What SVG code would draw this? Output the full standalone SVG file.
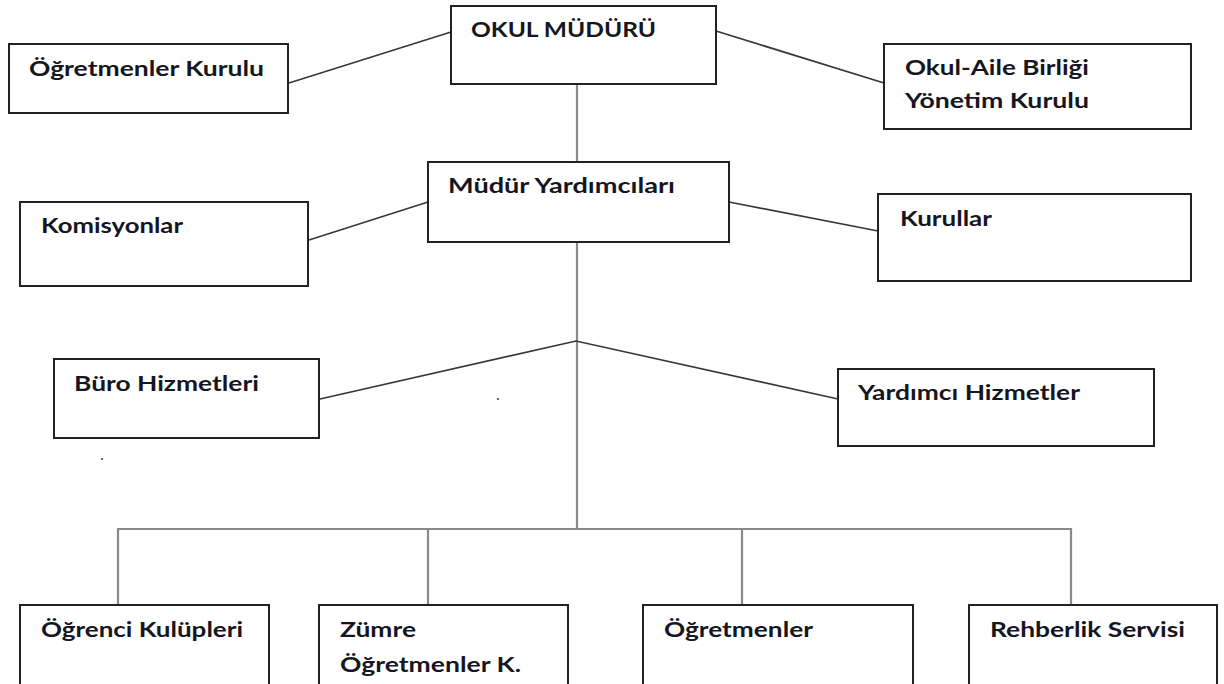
<svg xmlns="http://www.w3.org/2000/svg" width="1224" height="684" viewBox="0 0 1224 684">
<style>
.box{fill:#fff;stroke:#222;stroke-width:2}
.t{font-family:Lato,"Open Sans","Liberation Sans",sans-serif;font-weight:bold;font-size:20px;fill:#161622}
.d{stroke:#383838;stroke-width:1.7;fill:none}
.v{stroke:#8a8a8a;stroke-width:2.2;fill:none}
</style>
<rect width="1224" height="684" fill="#fff"/>
<g id="connectors">
<line class="d" x1="451" y1="32" x2="289" y2="83"/>
<line class="d" x1="716" y1="31" x2="884" y2="83"/>
<line class="v" x1="577" y1="84" x2="577" y2="162"/>
<line class="d" x1="428" y1="202" x2="309" y2="240"/>
<line class="d" x1="729" y1="202" x2="878" y2="231"/>
<line class="v" x1="577" y1="233" x2="577" y2="529"/>
<polyline class="d" points="320,399 576,341 838,399"/>
<polyline class="v" points="118,605 118,529 1071,529 1071,605"/>
<line class="v" x1="428" y1="529" x2="428" y2="605"/>
<line class="v" x1="742" y1="529" x2="742" y2="605"/>
</g>
<g id="okul-muduru"><rect class="box" x="451" y="6" width="265" height="78"/><text class="t" x="471" y="37" textLength="185" lengthAdjust="spacingAndGlyphs">OKUL MÜDÜRÜ</text></g>
<g id="ogretmenler-kurulu"><rect class="box" x="9" y="44" width="279" height="69"/><text class="t" x="29" y="76" textLength="235" lengthAdjust="spacingAndGlyphs">Öğretmenler Kurulu</text></g>
<g id="okul-aile"><rect class="box" x="884" y="44" width="307" height="85"/><text class="t" x="905" y="75" textLength="184" lengthAdjust="spacingAndGlyphs">Okul-Aile Birliği</text><text class="t" x="905" y="108" textLength="184" lengthAdjust="spacingAndGlyphs">Yönetim Kurulu</text></g>
<g id="mudur-yardimcilari"><rect class="box" x="428" y="162" width="301" height="80"/><text class="t" x="448" y="193" textLength="227" lengthAdjust="spacingAndGlyphs">Müdür Yardımcıları</text></g>
<g id="komisyonlar"><rect class="box" x="20" y="202" width="288" height="84"/><text class="t" x="41" y="233" textLength="142" lengthAdjust="spacingAndGlyphs">Komisyonlar</text></g>
<g id="kurullar"><rect class="box" x="878" y="194" width="313" height="87"/><text class="t" x="900" y="226" textLength="92" lengthAdjust="spacingAndGlyphs">Kurullar</text></g>
<g id="buro-hizmetleri"><rect class="box" x="54" y="359" width="265" height="79"/><text class="t" x="74" y="391" textLength="185" lengthAdjust="spacingAndGlyphs">Büro Hizmetleri</text></g>
<g id="yardimci-hizmetler"><rect class="box" x="838" y="369" width="316" height="77"/><text class="t" x="858" y="400" textLength="222" lengthAdjust="spacingAndGlyphs">Yardımcı Hizmetler</text></g>
<g id="ogrenci-kulupleri"><rect class="box" x="20" y="605" width="249" height="100"/><text class="t" x="41" y="637" textLength="202" lengthAdjust="spacingAndGlyphs">Öğrenci Kulüpleri</text></g>
<g id="zumre"><rect class="box" x="319" y="605" width="249" height="100"/><text class="t" x="340" y="637" textLength="76" lengthAdjust="spacingAndGlyphs">Zümre</text><text class="t" x="340" y="672" textLength="181" lengthAdjust="spacingAndGlyphs">Öğretmenler K.</text></g>
<g id="ogretmenler"><rect class="box" x="643" y="605" width="270" height="100"/><text class="t" x="664" y="637" textLength="149" lengthAdjust="spacingAndGlyphs">Öğretmenler</text></g>
<g id="rehberlik-servisi"><rect class="box" x="969" y="605" width="248" height="100"/><text class="t" x="990" y="637" textLength="195" lengthAdjust="spacingAndGlyphs">Rehberlik Servisi</text></g>
<circle cx="498" cy="399" r="1" fill="#333"/>
<circle cx="102" cy="459" r="1" fill="#333"/>
</svg>
